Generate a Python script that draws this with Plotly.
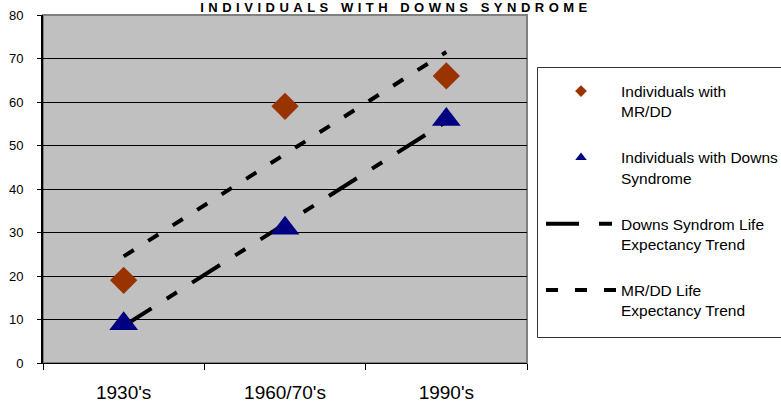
import numpy as np
import plotly.graph_objects as go

categories = ["1930's", "1960/70's", "1990's"]
mrdd_values = [19, 59, 66]
downs_values = [9, 31, 56]
y_ticks = [0, 10, 20, 30, 40, 50, 60, 70, 80]

title_text = "INDIVIDUALS WITH DOWNS SYNDROME"
legend_names = [
    "Individuals with<br>MR/DD",
    "Individuals with Downs<br>Syndrome",
    "Downs Syndrom Life<br>Expectancy Trend",
    "MR/DD Life<br>Expectancy Trend",
]

# linear trend lines (as the spreadsheet's linear trendline)
idx = np.arange(len(categories))
downs_fit = np.polyval(np.polyfit(idx, downs_values, 1), idx)
mrdd_fit = np.polyval(np.polyfit(idx, mrdd_values, 1), idx)

FONT = "Arial, 'Liberation Sans', sans-serif"
DIAMOND_C = "#993300"
TRI_C = "#000080"
W, H = 800, 403
PL, PR, PT, PB = 43, 527, 15, 363   # plot area in pixels


def px_x(p):
    return (p - PL) / (PR - PL)


def px_y(p):
    return (PB - p) / (PB - PT)


fig = go.Figure()

# trend lines
fig.add_trace(go.Scatter(x=categories, y=downs_fit, mode="lines",
                         line=dict(color="black", width=4, dash="33px,18px,12px,18px"),
                         showlegend=False, hoverinfo="skip"))
fig.add_trace(go.Scatter(x=categories, y=mrdd_fit, mode="lines",
                         line=dict(color="black", width=4, dash="12px,17px"),
                         showlegend=False, hoverinfo="skip"))
# markers
fig.add_trace(go.Scatter(x=categories, y=mrdd_values, mode="markers",
                         marker=dict(symbol="diamond", size=21, color=DIAMOND_C),
                         showlegend=False))
fig.add_trace(go.Scatter(x=categories, y=downs_values, mode="markers",
                         marker=dict(symbol="triangle-up", size=25, color=TRI_C),
                         showlegend=False))

# legend entries
fig.add_trace(go.Scatter(x=[None], y=[None], mode="markers", name=legend_names[0],
                         legendgroup="a",
                         marker=dict(symbol="diamond", size=9, color=DIAMOND_C)))
fig.add_trace(go.Scatter(x=[None], y=[None], mode="markers", name=legend_names[1],
                         legendgroup="b",
                         marker=dict(symbol="triangle-up", size=10, color=TRI_C)))
fig.add_trace(go.Scatter(x=[None], y=[None], mode="lines", name=legend_names[2],
                         legendgroup="c",
                         line=dict(color="black", width=4, dash="33px,20px,13px,20px")))
fig.add_trace(go.Scatter(x=[None], y=[None], mode="lines", name=legend_names[3],
                         legendgroup="d",
                         line=dict(color="black", width=4, dash="12px,17px")))

fig.update_layout(
    width=W, height=H,
    margin=dict(l=PL, r=W - PR, t=PT, b=H - PB, autoexpand=False),
    paper_bgcolor="white",
    plot_bgcolor="#C0C0C0",
    font=dict(family=FONT, color="black"),
    title=dict(
        text='<span style="letter-spacing:4.5px">' + title_text + '</span>',
        font=dict(size=13, family=FONT, color="black", weight="bold"),
        xref="container", yref="container", x=396 / W, xanchor="center",
        y=1 - 7.5 / H, yanchor="middle",
    ),
    showlegend=True,
    legend=dict(
        x=px_x(541), xanchor="left", y=px_y(74.5), yanchor="top",
        xref="paper", yref="paper",
        bgcolor="rgba(0,0,0,0)", borderwidth=0,
        font=dict(size=15.5, family=FONT, color="black"),
        valign="top", tracegroupgap=23, itemwidth=70,
        traceorder="grouped",
    ),
    xaxis=dict(
        type="category", range=[-0.5, 2.5],
        showgrid=False, tickson="boundaries",
        ticks="outside", ticklen=6, tickcolor="black", tickwidth=1,
        showline=True, linecolor="black", linewidth=1,
        tickfont=dict(size=19, family=FONT, color="black"),
        ticklabelstandoff=12,
        zeroline=False, fixedrange=True,
    ),
    yaxis=dict(
        range=[0, 80], tickvals=y_ticks,
        showgrid=True, gridcolor="black", gridwidth=1,
        ticks="outside", ticklen=4, tickcolor="black", tickwidth=1,
        showline=True, linecolor="black", linewidth=2,
        tickfont=dict(size=13, family=FONT, color="black"),
        ticklabelstandoff=11,
        zeroline=False, fixedrange=True,
    ),
    shapes=[
        dict(type="rect", xref="paper", yref="paper", x0=0, x1=1, y0=0, y1=1,
             line=dict(color="#808080", width=2), fillcolor="rgba(0,0,0,0)",
             layer="between"),
        # legend frame
        dict(type="rect", xref="paper", yref="paper",
             x0=px_x(537.5), x1=px_x(795), y0=px_y(337.5), y1=px_y(67.5),
             line=dict(color="#333333", width=1), fillcolor="white",
             layer="below"),
    ],
)

fig.write_html(
    "out.html",
    config={"displayModeBar": False},
    post_script="document.body.style.margin='0';document.body.style.overflow='hidden';",
)
